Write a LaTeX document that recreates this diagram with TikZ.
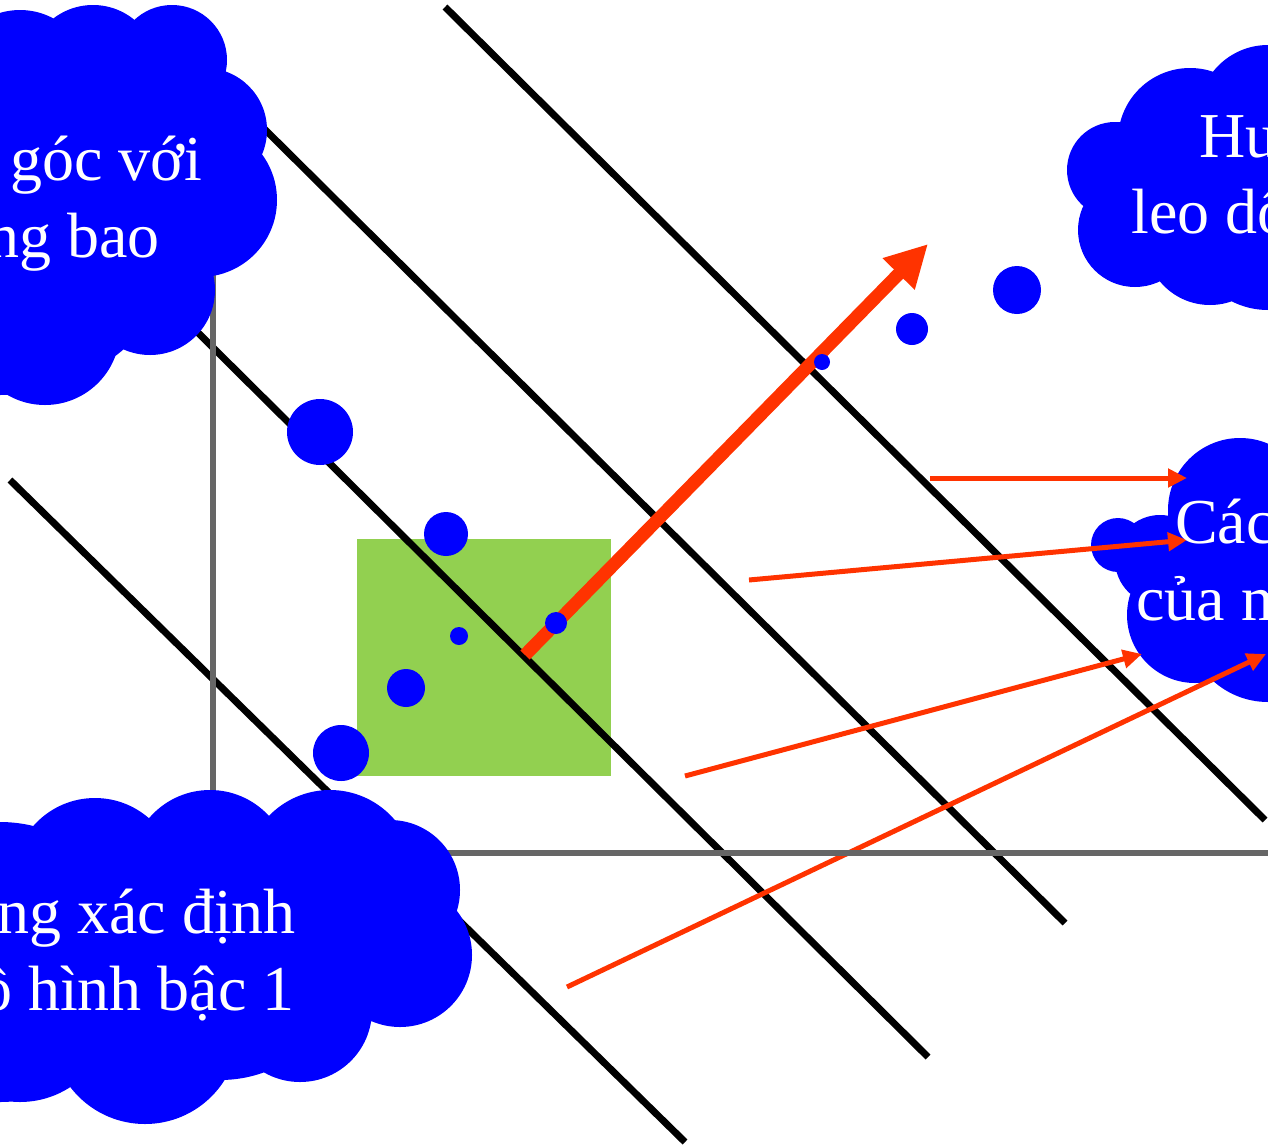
\documentclass[tikz,border=0pt]{standalone}
\usepackage{fontspec}
\setmainfont{Liberation Serif}
\usetikzlibrary{arrows.meta}
\definecolor{cloudblue}{HTML}{0000FF}
\definecolor{boxgreen}{HTML}{92D050}
\definecolor{arrred}{HTML}{FF3300}
\definecolor{axisgrey}{HTML}{666666}
\begin{document}
\begin{tikzpicture}[x=1pt,y=-1pt,
  contour/.style={line width=7pt, black},
  axisline/.style={line width=6.5pt, axisgrey},
  thinarrow/.style={line width=5pt, arrred, -{Triangle[length=19pt,width=18pt]}},
  thickarrow/.style={line width=13pt, arrred, -{Triangle[length=42pt,width=42pt]}},
  cloudfill/.style={fill=cloudblue},
  bdot/.style={circle, fill=cloudblue, inner sep=0pt, minimum size=#1},
  cloudtext/.style={text=white, font=\fontsize{64}{77}\selectfont, inner sep=0pt}]
\useasboundingbox (0,0) rectangle (1268,1146);
\clip (0,0) rectangle (1268,1146);

% green region
\node[fill=boxgreen, minimum width=254pt, minimum height=237pt, inner sep=0pt, anchor=north west] (box) at (357,539) {};

% contour lines
\coordinate (l1a) at (445,7);    \coordinate (l1b) at (1265,820);
\coordinate (l2a) at (210,75);   \coordinate (l2b) at (1065,923);
\coordinate (l3a) at (160,295);  \coordinate (l3b) at (928,1057);
\coordinate (l4a) at (10,480);   \coordinate (l4b) at (685,1142);
\draw[contour] (l1a) -- (l1b);
\draw[contour] (l2a) -- (l2b);
\draw[contour] (l3a) -- (l3b);
\draw[contour] (l4a) -- (l4b);

% gradient arrow
\coordinate (ga) at (525,655); \coordinate (gb) at (928,244);
\draw[thickarrow] (ga) -- (gb);

% right cloud
\fill[cloudfill] (1240,510) circle[radius=72pt] (1118,545) circle[radius=27pt]
  (1160,560) circle[radius=45pt] (1195,615) circle[radius=68pt]
  (1268,620) circle[radius=82pt] (1230,580) circle[radius=80pt];
% top-right cloud
\fill[cloudfill] (1190,140) circle[radius=72pt] (1268,115) circle[radius=70pt]
  (1115,170) circle[radius=48pt] (1135,230) circle[radius=57pt]
  (1210,240) circle[radius=65pt] (1268,230) circle[radius=80pt];

% thin arrows
\coordinate (a1) at (930,478);  \coordinate (t1) at (1187,478);
\coordinate (a2) at (749,580);  \coordinate (t2) at (1187,540);
\coordinate (a3) at (685,776);  \coordinate (t3) at (1142,654);
\coordinate (a4) at (567,987);  \coordinate (t4) at (1266,654);
\draw[thinarrow] (a1) -- (t1);
\draw[thinarrow] (a2) -- (t2);
\draw[thinarrow] (a3) -- (t3);
\draw[thinarrow] (a4) -- (t4);

% axes
\coordinate (yt) at (213,270);
\coordinate (yb) at (213,820);
\coordinate (xl) at (400,853);
\coordinate (xr) at (1268,853);
\draw[axisline] (yt) -- (yb);
\draw[axisline] (xl) -- (xr);

% top-left cloud
\fill[cloudfill] (20,80) circle[radius=70pt] (93,70) circle[radius=65pt]
  (172,60) circle[radius=55pt] (205,130) circle[radius=62pt]
  (200,200) circle[radius=77pt] (150,290) circle[radius=65pt]
  (45,330) circle[radius=75pt] (100,200) circle[radius=110pt]
  (0,205) circle[radius=190pt];
% bottom-left cloud
\fill[cloudfill] (95,880) circle[radius=82pt] (210,870) circle[radius=80pt]
  (330,875) circle[radius=85pt] (390,890) circle[radius=70pt]
  (400,955) circle[radius=72pt] (300,1010) circle[radius=72pt]
  (145,1030) circle[radius=94pt] (20,1010) circle[radius=92pt]
  (220,950) circle[radius=130pt] (0,962) circle[radius=140pt];

% data points
\node[bdot=66pt] (p1) at (320,432) {};
\node[bdot=44pt] (p2) at (446,534) {};
\node[bdot=18pt] (p3) at (459,636) {};
\node[bdot=38pt] (p4) at (406,688) {};
\node[bdot=56pt] (p5) at (341,753) {};
\node[bdot=22pt] (p6) at (556,623) {};
\node[bdot=16pt] (p7) at (822,362) {};
\node[bdot=32pt] (p8) at (912,329) {};
\node[bdot=48pt] (p9) at (1017,290) {};

% cloud texts
\node[cloudtext, anchor=base west] (tl1) at (10,180) {góc với};
\node[cloudtext, anchor=base east] (tl2) at (160,257) {ng bao};
\node[cloudtext, anchor=base west] (tr1) at (1199,157) {Hu};
\node[cloudtext, anchor=base west] (tr2) at (1131,233) {leo dố};
\node[cloudtext, anchor=base west] (r1) at (1175,543) {Các};
\node[cloudtext, anchor=base west] (r2) at (1136,620) {của m};
\node[cloudtext, anchor=base east] (b1) at (296,933) {ng xác định};
\node[cloudtext, anchor=base east] (b2) at (295,1010) {ồ hình bậc 1};
\end{tikzpicture}
\end{document}
